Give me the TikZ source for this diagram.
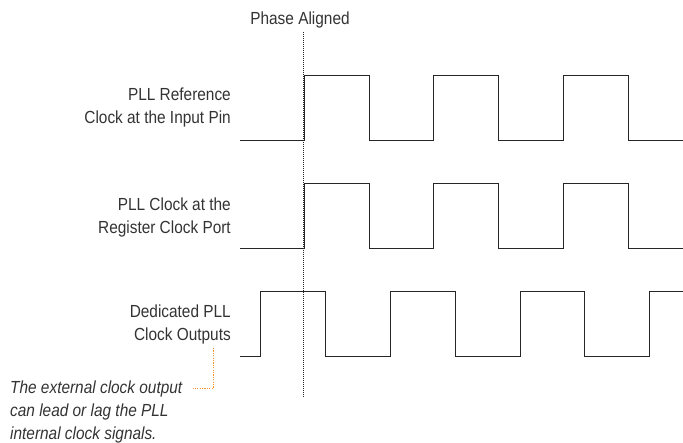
\documentclass[tikz,border=0pt]{standalone}
\usepackage{fontspec}
\setmainfont{Liberation Sans}[FakeStretch=0.88]
\definecolor{leadorange}{HTML}{F5922A}
\begin{document}
\begin{tikzpicture}[
  x=1pt, y=-1pt,
  signal/.style={%
    draw=black!85,%
    %draw=black,
    line width=0.9pt,%
    line join=miter
  },
  sigtext/.style={%
    align=right,%
    anchor=east,%
    inner sep=0pt,%
    text=black!80,%
    font=\fontsize{17.5}{23.3}\selectfont
  },
  notetext/.style={%
    align=left,%
    anchor=north west,%
    inner sep=0pt,%
    text=black!80,%
    font=\fontsize{17.5}{23.3}\selectfont\itshape
  },
  phaseline/.style={%
    draw=black!85,%
    line width=1pt,%
    dash pattern=on 1pt off 1pt
  },
  leadline/.style={%
    draw=leadorange,%
    line width=1.2pt,%
    dash pattern=on 1.2pt off 1.2pt
  }
]

  \useasboundingbox (0,0) rectangle (683,443);

  % labels
  \node [sigtext] (refclk) at (231,107.2) {PLL Reference\\Clock at the Input Pin};
  \node [sigtext] (regclk) at (231,217.4) {PLL Clock at the\\Register Clock Port};
  \node [sigtext] (outclk) at (231,324.8) {Dedicated PLL\\Clock Outputs};
  \node [notetext] (note) at (10,380.5) {The external clock output\\can lead or lag the PLL\\internal clock signals.};
  \node [sigtext, anchor=base] (phase) at (300,25) {Phase Aligned};

  % waveforms
  \draw[signal] (240,140) -| (304,75.7) -| (369,140) -| (433.5,75.7) -| (498.5,140)
    -| (563.5,75.7) -| (628.3,140) -- (683,140);
  \draw[signal] (240,248) -| (304,183.3) -| (369,248) -| (433.5,183.3) -| (498.5,248)
    -| (563.5,183.3) -| (628.3,248) -- (683,248);
  \draw[signal] (240,356) -| (260.7,291.3) -| (325.7,356) -| (390.5,291.3) -| (455.3,356)
    -| (520,291.3) -| (584.7,356) -| (649.7,291.3) -- (683,291.3);

  % phase marker
  \coordinate (phtop) at (303.5,32);
  \coordinate (phbot) at (303.5,398);
  \draw[phaseline] (phtop) -- (phbot);

  % note lead
  \coordinate (leadtop) at (213.3,348);
  \coordinate (leadend) at (193,388.3);
  \draw[leadline] (leadtop) |- (leadend);

\end{tikzpicture}
\end{document}
